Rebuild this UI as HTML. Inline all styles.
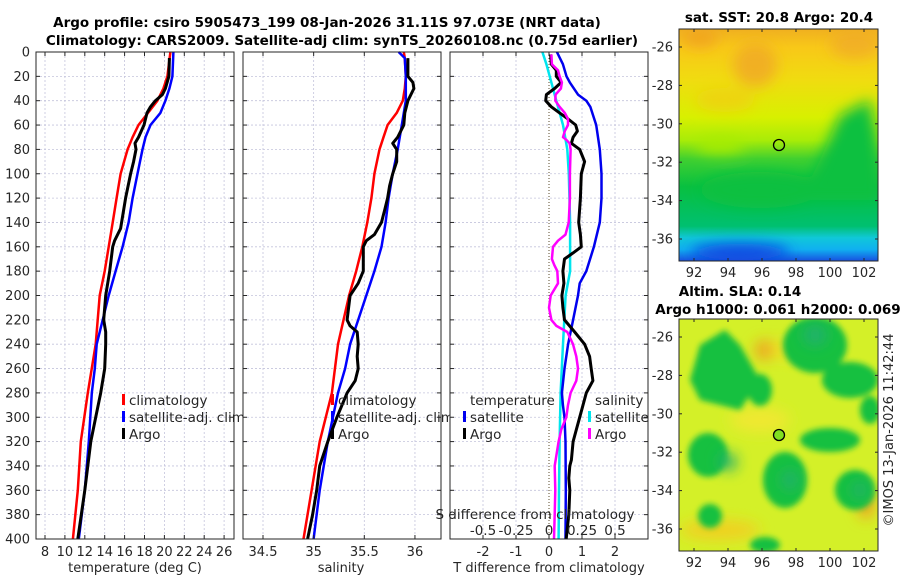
<!DOCTYPE html>
<html><head><meta charset="utf-8">
<style>
body{margin:0;background:#fff;}
svg{display:block;font-family:"DejaVu Sans","Liberation Sans",sans-serif;}
.t{font-size:13px;fill:#262626;}
.l{font-size:13.5px;fill:#262626;}
.b{font-size:13.5px;font-weight:bold;fill:#000;}
</style></head>
<body>
<svg id="fig" width="900" height="580" viewBox="0 0 900 580">
<defs>
<filter id="blur6" x="-50%" y="-50%" width="200%" height="200%"><feGaussianBlur stdDeviation="7"/></filter>
<filter id="blur3" x="-50%" y="-50%" width="200%" height="200%"><feGaussianBlur stdDeviation="3"/></filter>
<linearGradient id="sstg" x1="0" y1="0" x2="0" y2="1">
<stop offset="0" stop-color="#f0b020"/><stop offset="0.08" stop-color="#f8c818"/>
<stop offset="0.22" stop-color="#f0dc10"/><stop offset="0.38" stop-color="#d8f000"/>
<stop offset="0.48" stop-color="#a8ec08"/><stop offset="0.56" stop-color="#40d030"/>
<stop offset="0.68" stop-color="#08c040"/>
<stop offset="0.85" stop-color="#00c070"/><stop offset="0.9" stop-color="#10c8d8"/>
<stop offset="0.95" stop-color="#10b0f0"/><stop offset="1" stop-color="#1850e0"/>
</linearGradient>
<clipPath id="c1"><rect x="679" y="29" width="199" height="232"/></clipPath>
<clipPath id="c2"><rect x="679" y="319" width="199" height="232"/></clipPath>
</defs>
<text class="b" x="327" y="27" text-anchor="middle">Argo profile: csiro 5905473_199 08-Jan-2026 31.11S 97.073E (NRT data)</text>
<text class="b" x="342" y="45" text-anchor="middle">Climatology: CARS2009. Satellite-adj clim: synTS_20260108.nc (0.75d earlier)</text>
<g id="panels"></g>
<g id="maps">
<text class="b" x="779" y="22" text-anchor="middle">sat. SST: 20.8 Argo: 20.4</text>
<g clip-path="url(#c1)">
<rect x="679" y="29" width="199" height="232" fill="url(#sstg)"/>
<g filter="url(#blur6)">
<ellipse cx="755" cy="65" rx="22" ry="22" fill="#f0a828" opacity="0.8"/>
<ellipse cx="855" cy="45" rx="25" ry="14" fill="#f0a828" opacity="0.7"/>
<ellipse cx="700" cy="38" rx="18" ry="10" fill="#f0a020" opacity="0.8"/>
<ellipse cx="725" cy="100" rx="30" ry="12" fill="#f4c818" opacity="0.6"/>
<path d="M820 160 L840 115 L870 100 L878 140 L878 200 L800 200 Z" fill="#10c040"/>
<ellipse cx="760" cy="190" rx="60" ry="18" fill="#10c040"/>
<ellipse cx="720" cy="145" rx="25" ry="8" fill="#a8ec00"/>
<ellipse cx="740" cy="252" rx="50" ry="8" fill="#1040e0"/>
</g>
</g>
<rect x="679" y="29" width="199" height="232" fill="none" stroke="#262626"/>
<text class="b" x="740" y="296" text-anchor="middle">Altim. SLA: 0.14</text>
<text class="b" x="778" y="314" text-anchor="middle">Argo h1000: 0.061 h2000: 0.069</text>
<g clip-path="url(#c2)">
<rect x="679" y="319" width="199" height="232" fill="#d4f028"/>
<g filter="url(#blur6)">
<ellipse cx="765" cy="350" rx="10" ry="10" fill="#f0a020"/>
<ellipse cx="866" cy="505" rx="8" ry="14" fill="#f0a020"/>
<ellipse cx="800" cy="350" rx="30" ry="10" fill="#f0e020"/>
<ellipse cx="720" cy="530" rx="40" ry="10" fill="#f0d020"/>
<ellipse cx="760" cy="420" rx="30" ry="12" fill="#f0e830"/>
</g>
<g filter="url(#blur3)" fill="#18c040">
<path d="M700 345 L725 330 L740 345 L760 380 L740 410 L700 400 L690 380 Z"/>
<ellipse cx="760" cy="390" rx="12" ry="16"/>
<ellipse cx="815" cy="345" rx="32" ry="28"/>
<ellipse cx="850" cy="380" rx="28" ry="18"/>
<ellipse cx="870" cy="410" rx="10" ry="14"/>
<ellipse cx="708" cy="455" rx="20" ry="22"/>
<ellipse cx="785" cy="480" rx="22" ry="28"/>
<ellipse cx="830" cy="440" rx="30" ry="12"/>
<ellipse cx="855" cy="490" rx="20" ry="20"/>
<ellipse cx="710" cy="516" rx="12" ry="12"/>
<ellipse cx="765" cy="545" rx="15" ry="8"/>
</g>
<g filter="url(#blur6)" fill="#20b070">
<ellipse cx="815" cy="335" rx="12" ry="10"/><ellipse cx="728" cy="462" rx="9" ry="9"/><ellipse cx="790" cy="480" rx="8" ry="10"/><ellipse cx="860" cy="490" rx="8" ry="8"/>
</g>
</g>
<rect x="679" y="319" width="199" height="232" fill="none" stroke="#262626"/>
<circle cx="779" cy="145" r="5.5" fill="none" stroke="#000" stroke-width="1.3"/>
<circle cx="779" cy="435" r="5.5" fill="#80e020" stroke="#000" stroke-width="1.3"/>
<g id="mapaxes"></g>
<text class="t" transform="translate(893,430) rotate(-90)" text-anchor="middle">©IMOS 13-Jan-2026 11:42:44</text>
</g>
</svg>
<script>
// ---- data ----
const depths = [0,20,40,60,80,100,120,140,160,180,200,220,240,260,280,300,320,340,360,380,400];
const tempDepths = [0,20,30,40,50,60,70,80,100,120,140,160,180,200,240,280,320,360,400];
const tempClim = [20.6,20.3,19.9,19.3,18.35,17.4,16.8,16.3,15.6,15.2,14.8,14.4,14.0,13.5,13.1,12.3,11.6,11.3,10.8];
const tempSatDepths = [0,20,30,40,50,60,70,80,100,120,140,160,180,200,220,240,260,280,320,360,400];
const tempSat = [20.9,20.8,20.5,20.1,19.6,18.6,18.1,17.8,17.3,16.8,16.4,15.8,15.1,14.4,13.8,13.2,13.0,12.7,12.4,12.0,11.4];
const tempArgoDepths = [5,20,30,35,40,45,50,60,70,75,80,90,100,120,140,145,155,160,180,200,220,230,240,260,270,280,300,320,340,360,400];
const tempArgo = [20.5,20.45,20.1,19.8,19.1,18.6,18.25,17.95,17.4,17.05,17.15,16.9,16.6,16.1,15.7,15.6,15.0,14.8,14.5,14.1,13.9,14.1,14.1,14.0,13.8,13.6,13.1,12.6,12.3,12.0,11.3];
const salClimDepths = [0,5,20,30,40,50,60,70,80,100,120,140,160,180,200,240,280,320,360,400];
const salClim = [35.89,35.9,35.91,35.9,35.88,35.82,35.73,35.69,35.65,35.6,35.57,35.53,35.48,35.42,35.35,35.24,35.18,35.06,34.98,34.9];
const salSatDepths = [0,5,20,40,60,80,100,120,140,160,180,200,220,240,260,280,300,320,360,400];
const salSat = [35.84,35.9,35.91,35.91,35.87,35.83,35.78,35.74,35.71,35.67,35.6,35.52,35.44,35.36,35.31,35.24,35.19,35.14,35.06,35.0];
const salArgoDepths = [5,20,25,30,35,40,50,60,70,75,80,90,100,110,120,130,140,150,155,160,180,190,200,220,225,230,240,250,260,270,280,300,320,340,360,380,400];
const salArgo = [35.93,35.93,35.98,35.99,35.96,35.93,35.9,35.89,35.83,35.78,35.82,35.82,35.78,35.75,35.73,35.7,35.67,35.6,35.52,35.49,35.49,35.44,35.36,35.33,35.36,35.43,35.44,35.43,35.44,35.41,35.33,35.23,35.14,35.06,35.03,34.99,34.94];
const dTSatDepths = [0,10,20,25,35,40,45,60,80,100,120,140,160,180,190,200,220,240,260,280,290,300,320,360,400];
const dTSat = [0.24,0.42,0.53,0.63,0.88,1.13,1.25,1.43,1.54,1.59,1.59,1.54,1.36,1.13,0.93,0.88,0.73,0.58,0.47,0.39,0.42,0.47,0.5,0.51,0.5];
const dTArgoDepths = [2,10,15,20,25,30,35,40,45,50,55,60,65,70,75,80,90,100,120,140,150,160,165,170,180,190,200,210,220,230,240,250,260,270,280,290,300,310,320,335,340,350,360,380,400];
const dTArgo = [0.05,0.07,0.22,0.22,0.37,0.17,-0.08,-0.1,0.07,0.32,0.58,0.81,0.86,0.73,0.68,0.93,1.08,0.98,0.95,0.9,0.95,0.98,0.73,0.47,0.42,0.45,0.39,0.42,0.47,0.78,1.08,1.23,1.28,1.33,1.13,1.03,0.93,0.83,0.73,0.68,0.63,0.6,0.63,0.6,0.52];
const dSSatDepths = [0,10,20,40,60,80,100,140,180,200,240,280,320,360,400];
const dSSat = [-0.05,-0.02,0.005,0.055,0.106,0.139,0.15,0.16,0.16,0.126,0.106,0.088,0.08,0.076,0.073];
const dSArgoDepths = [2,10,15,20,25,30,35,40,45,50,55,60,65,70,72,75,80,100,120,140,150,155,160,170,175,180,190,200,210,220,225,230,240,250,260,270,280,290,300,310,320,340,360,380,400];
const dSArgo = [0.018,0.022,0.068,0.08,0.098,0.09,0.05,0.048,0.08,0.12,0.144,0.144,0.12,0.106,0.13,0.156,0.164,0.158,0.158,0.149,0.125,0.068,0.03,0.022,0.04,0.063,0.068,0.013,0.0,0.018,0.056,0.139,0.182,0.207,0.22,0.207,0.164,0.144,0.131,0.093,0.073,0.043,0.048,0.043,0.038];
const depthTicks = [0,20,40,60,80,100,120,140,160,180,200,220,240,260,280,300,320,340,360,380,400];
const tempTicks = [8,10,12,14,16,18,20,22,24,26];
const salTicks = [34.5,35,35.5,36];
const salTickLabels = ["34.5","35","35.5","36"];
const dTTicks = [-2,-1,0,1,2];
const dSTicks = [-0.5,-0.25,0,0.25,0.5];
const dSTickLabels = ["-0.5","-0.25","0","0.25","0.5"];
const lonTicks = [92,94,96,98,100,102];
const latTicks = [-26,-28,-30,-32,-34,-36];

// ---- scales ----
const NS='http://www.w3.org/2000/svg';
const yTop=52, yBot=539;
const yD = d => yTop + d*(yBot-yTop)/400;
const xT = v => 45 + (v-8)*9.95;
const xS = v => 263 + (v-34.5)*101.3;
const xdT = v => 549 + v*33;
const xdS = v => 549 + v*132;
function el(tag, attrs, parent){const e=document.createElementNS(NS,tag);for(const k in attrs)e.setAttribute(k,attrs[k]);parent.appendChild(e);return e;}
const root=document.getElementById('panels');

function panel(x0,name){
  const g=el('g',{},root);
  
  
  el('rect',{x:x0,y:yTop,width:198,height:yBot-yTop,fill:'#fff'},g);
  return g;
}
function grid(g,x0,xs){
  depthTicks.forEach(d=>{el('line',{x1:x0,x2:x0+198,y1:yD(d),y2:yD(d),stroke:'#c4c4dc','stroke-width':0.8,'stroke-dasharray':'2,2'},g);});
  xs.forEach(x=>{el('line',{x1:x,x2:x,y1:yTop,y2:yBot,stroke:'#c4c4dc','stroke-width':0.8,'stroke-dasharray':'2,2'},g);});
}
function frame(g,x0,xs){
  el('rect',{x:x0,y:yTop,width:198,height:yBot-yTop,fill:'none',stroke:'#262626','stroke-width':1},g);
  depthTicks.forEach(d=>{el('line',{x1:x0,x2:x0+4,y1:yD(d),y2:yD(d),stroke:'#262626'},g);el('line',{x1:x0+194,x2:x0+198,y1:yD(d),y2:yD(d),stroke:'#262626'},g);});
  xs.forEach(x=>{el('line',{x1:x,x2:x,y1:yBot,y2:yBot-4,stroke:'#262626'},g);el('line',{x1:x,x2:x,y1:yTop,y2:yTop+4,stroke:'#262626'},g);});
}
function line(g,ds,vs,xf,color,w,name){
  const pts=ds.map((d,i)=>xf(vs[i]).toFixed(1)+','+yD(d).toFixed(1)).join(' ');
  const p=el('polyline',{points:pts,fill:'none',stroke:color,'stroke-width':w,'stroke-linejoin':'round'},g);
  
  
}
function txt(g,x,y,s,anchor,name,cls){
  const t=el('text',{x:x,y:y,class:cls||'t','text-anchor':anchor||'start'},g);
  t.textContent=s;
  
  
  return t;
}
function legItem(g,x,y,color,s,name){
  el('rect',{x:x,y:y-11,width:3,height:11,fill:color},g);
  txt(g,x+7,y,s,'start',name,'l');
}

// Panel 1: temperature
let g=panel(36,'temperature-panel');
grid(g,36,tempTicks.map(xT));
line(g,tempDepths,tempClim,xT,'#ff0000',2.5,'temp-climatology-line');
line(g,tempSatDepths,tempSat,xT,'#0000ff',2.5,'temp-satellite-line');
line(g,tempArgoDepths,tempArgo,xT,'#000',3,'temp-argo-line');
frame(g,36,tempTicks.map(xT));
depthTicks.forEach(d=>txt(g,30,yD(d)+4.5,String(d),'end','depth-tick-label'));
tempTicks.forEach(v=>txt(g,xT(v),556,String(v),'middle','temp-tick-label'));
txt(g,135,572,'temperature (deg C)','middle','temp-axis-title');
legItem(g,122,405,'#ff0000','climatology','legend-climatology');
legItem(g,122,422,'#0000ff','satellite-adj. clim','legend-satellite-adj');
legItem(g,122,439,'#000','Argo','legend-argo');

// Panel 2: salinity
g=panel(243,'salinity-panel');
grid(g,243,salTicks.map(xS));
line(g,salClimDepths,salClim,xS,'#ff0000',2.5,'sal-climatology-line');
line(g,salSatDepths,salSat,xS,'#0000ff',2.5,'sal-satellite-line');
line(g,salArgoDepths,salArgo,xS,'#000',3,'sal-argo-line');
frame(g,243,salTicks.map(xS));
salTicks.forEach((v,i)=>txt(g,xS(v),556,salTickLabels[i],'middle','sal-tick-label'));
txt(g,341,572,'salinity','middle','sal-axis-title');
legItem(g,331,405,'#ff0000','climatology','legend-climatology-2');
legItem(g,331,422,'#0000ff','satellite-adj. clim','legend-satellite-adj-2');
legItem(g,331,439,'#000','Argo','legend-argo-2');

// Panel 3: differences
g=panel(450,'difference-panel');
grid(g,450,dTTicks.filter(v=>v!==0).map(xdT));
el('line',{x1:xdT(0),x2:xdT(0),y1:yTop,y2:yBot,stroke:'#5a4a2a','stroke-width':1,'stroke-dasharray':'1,2'},g);
line(g,dSSatDepths,dSSat,xdS,'#00e5ee',2.5,'sal-diff-satellite-line');
line(g,dTSatDepths,dTSat,xdT,'#0000ee',2.5,'temp-diff-satellite-line');
line(g,dTArgoDepths,dTArgo,xdT,'#000',3,'temp-diff-argo-line');
line(g,dSArgoDepths,dSArgo,xdS,'#ff00ff',2.5,'sal-diff-argo-line');
frame(g,450,dTTicks.map(xdT));
dTTicks.forEach(v=>txt(g,xdT(v),556,String(v),'middle','tdiff-tick-label'));
txt(g,549,572,'T difference from climatology','middle','tdiff-axis-title');
txt(g,535,519,'S difference from climatology','middle','sdiff-axis-title','l');
dSTicks.forEach((v,i)=>txt(g,xdS(v),535,dSTickLabels[i],'middle','sdiff-tick-label','l'));
txt(g,470,405,'temperature','start','legend-temp-header','l');
legItem(g,463,422,'#0000ee','satellite','legend-temp-satellite');
legItem(g,463,439,'#000','Argo','legend-temp-argo');
txt(g,595,405,'salinity','start','legend-sal-header','l');
legItem(g,588,422,'#00e5ee','satellite','legend-sal-satellite');
legItem(g,588,439,'#ff00ff','Argo','legend-sal-argo');

// Map axes
const mg=document.getElementById('mapaxes');
const xLon=v=>694+(v-92)*17;
function mapAxes(top,bot,yLat){
  lonTicks.forEach(v=>{el('line',{x1:xLon(v),x2:xLon(v),y1:bot,y2:bot-3,stroke:'#262626'},mg);el('line',{x1:xLon(v),x2:xLon(v),y1:top,y2:top+3,stroke:'#262626'},mg);txt(mg,xLon(v),bot+16,String(v),'middle','lon-tick-label');});
  latTicks.forEach(v=>{const y=yLat(v);el('line',{x1:679,x2:682,y1:y,y2:y,stroke:'#262626'},mg);el('line',{x1:875,x2:878,y1:y,y2:y,stroke:'#262626'},mg);txt(mg,673,y+4.5,String(v),'end','lat-tick-label');});
}
mapAxes(29,261,v=>47+(-26-v)*19.2);
mapAxes(319,551,v=>337+(-26-v)*19.2);
</script>
</body></html>
